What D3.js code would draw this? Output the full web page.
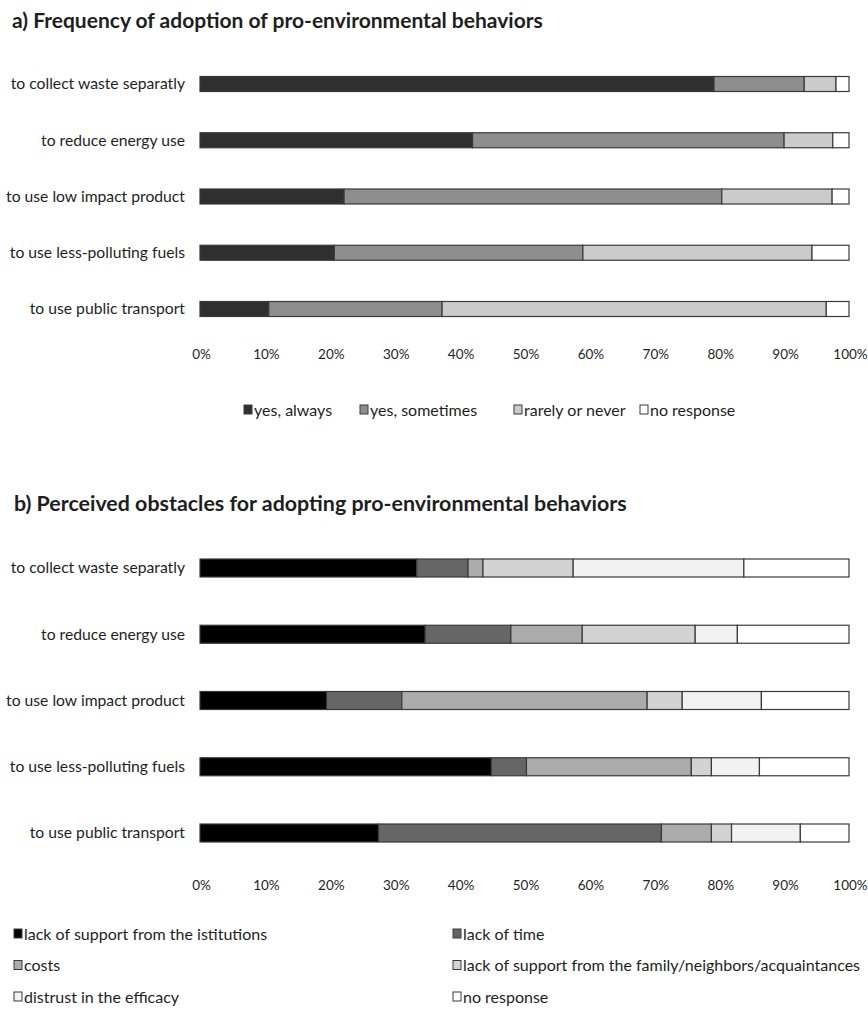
<!DOCTYPE html>
<html><head><meta charset="utf-8">
<script src="https://cdn.jsdelivr.net/npm/d3@7"></script>
<style>
body{margin:0;background:#fff;}
text{font-family:Lato,"Open Sans",sans-serif;fill:#1e1e1e;}
</style></head>
<body><svg id="c" width="868" height="1010"></svg>
<script>
// ---------- data ----------
const categories = ["to collect waste separatly","to reduce energy use","to use low impact product","to use less-polluting fuels","to use public transport"];
const ticks = [0,10,20,30,40,50,60,70,80,90,100];

const freqKeys = ["yes, always","yes, sometimes","rarely or never","no response"];
const yesAlways    = [79.2, 42.0, 22.2, 20.7, 10.6];
const yesSometimes = [13.9, 48.0, 58.2, 38.3, 26.7];
const rarelyNever  = [ 4.9,  7.5, 17.0, 35.3, 59.2];
const noResponseA  = [ 2.0,  2.5,  2.6,  5.7,  3.5];
const freqColors = ["#2f2f2f","#8e8e8e","#cbcbcb","#ffffff"];

const obsKeys = ["lack of support from the istitutions","lack of time","costs","lack of support from the family/neighbors/acquaintances","distrust in the efficacy","no response"];
const lackInstitutions = [33.4, 34.7, 19.5, 44.9, 27.5];
const lackTime         = [ 7.9, 13.2, 11.6,  5.4, 43.6];
const costs            = [ 2.3, 11.0, 37.8, 25.4,  7.7];
const lackFamily       = [13.9, 17.4,  5.4,  3.1,  3.1];
const distrust         = [26.3,  6.5, 12.2,  7.4, 10.6];
const noResponseB      = [16.2, 17.2, 13.5, 13.8,  7.5];
const obsColors = ["#000000","#666666","#ababab","#d3d3d3","#f2f2f2","#ffffff"];

const svg = d3.select("#c");

function makeRows(keys, series){
  return categories.map((c,i)=>{
    const o={cat:c}; keys.forEach((k,j)=>o[k]=series[j][i]); return o;});
}

function drawChart(opt){
  const x = d3.scaleLinear().domain([0,100]).range([200,849]);
  const y = d3.scalePoint().domain(categories).range(opt.yRange);
  const color = d3.scaleOrdinal().domain(opt.keys).range(opt.colors);
  const stack = d3.stack().keys(opt.keys)(makeRows(opt.keys, opt.series));

  svg.append("text").attr("x",opt.titleX).attr("y",opt.titleY)
    .attr("font-weight","bold").attr("font-size",opt.titleSize).text(opt.title);

  const g = svg.append("g");
  g.selectAll("g.layer").data(stack).join("g").attr("fill",d=>color(d.key))
    .selectAll("rect").data(d=>d).join("rect")
    .attr("x",d=>x(d[0])).attr("width",d=>x(d[1])-x(d[0]))
    .attr("y",d=>y(d.data.cat)-opt.barH/2).attr("height",opt.barH)
    .attr("stroke","#3a3a3a").attr("stroke-width",1.2);

  svg.append("g").selectAll("text").data(categories).join("text")
    .attr("x",185).attr("y",d=>y(d)).attr("dy","0.35em")
    .attr("text-anchor","end").attr("font-size",15.7).text(d=>d);

  const ax = svg.append("g").attr("transform",`translate(1,${opt.axisY})`)
    .call(d3.axisBottom(x).tickValues(ticks).tickSize(0).tickFormat(d=>d+"%"));
  ax.select(".domain").remove();
  ax.selectAll("text").attr("font-size",13.5).attr("font-family","Lato,'Open Sans',sans-serif").attr("fill","#1e1e1e");
  return color;
}

const cA = drawChart({title:"a) Frequency of adoption of pro-environmental behaviors",titleX:12,titleY:28,titleSize:21,
  keys:freqKeys, series:[yesAlways,yesSometimes,rarelyNever,noResponseA], colors:freqColors,
  yRange:[84,309], barH:15, axisY:346});

const cB = drawChart({title:"b) Perceived obstacles for adopting pro-environmental behaviors",titleX:14,titleY:511,titleSize:21.4,
  keys:obsKeys, series:[lackInstitutions,lackTime,costs,lackFamily,distrust,noResponseB], colors:obsColors,
  yRange:[568,833], barH:18, axisY:877});

// legend a
const legA = [{k:freqKeys[0],x:244},{k:freqKeys[1],x:360},{k:freqKeys[2],x:514},{k:freqKeys[3],x:640}];
const la = svg.append("g").selectAll("g").data(legA).join("g").attr("transform",d=>`translate(${d.x},410)`);
la.append("rect").attr("x",0).attr("y",-5).attr("width",8).attr("height",9)
  .attr("fill",d=>cA(d.k)).attr("stroke","#3a3a3a");
la.append("text").attr("x",10).attr("dy","0.35em").attr("font-size",16).text(d=>d.k);

// legend b
const legB = obsKeys.map((k,i)=>({k, x: i%2===0?14:453, y: 934 + Math.floor(i/2)*31.5}));
const lb = svg.append("g").selectAll("g").data(legB).join("g").attr("transform",d=>`translate(${d.x},${d.y})`);
lb.append("rect").attr("x",0).attr("y",-5).attr("width",8).attr("height",9)
  .attr("fill",d=>cB(d.k)).attr("stroke","#3a3a3a");
lb.append("text").attr("x",10).attr("dy","0.35em").attr("font-size",16).text(d=>d.k);
</script></body></html>
